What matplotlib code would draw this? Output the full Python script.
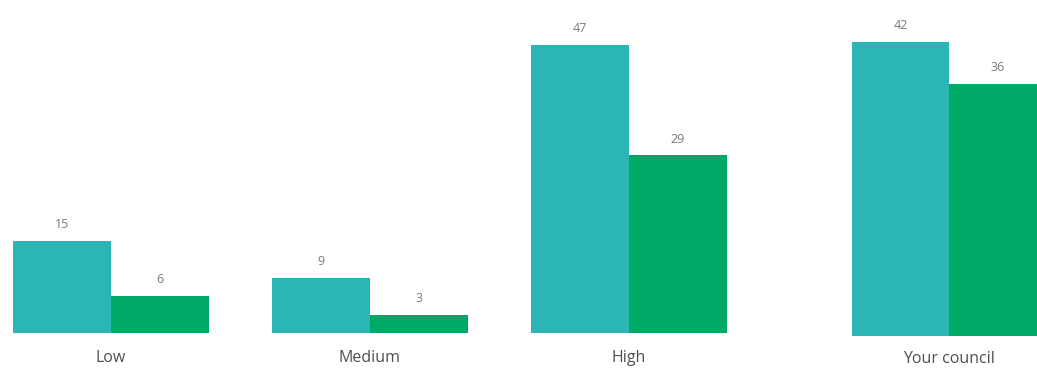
import matplotlib
matplotlib.use("Agg")
import matplotlib.pyplot as plt

categories = ["Low", "Medium", "High", "Your council"]
teal_values = [15, 9, 47, 42]
green_values = [6, 3, 29, 36]

TEAL = "#2BB5B4"
GREEN = "#00AA66"
LABEL_C = "#7a7a7a"
CAT_C = "#505050"
FONT = ["Open Sans", "DejaVu Sans"]

W, H = 1037, 369
fig = plt.figure(figsize=(W / 100, H / 100), dpi=100)


def draw(ax, idx, xs, width, cat_off):
    for x, i in zip(xs, idx):
        for off, val, col in ((-width / 2, teal_values[i], TEAL), (width / 2, green_values[i], GREEN)):
            ax.bar(x + off, val, width=width, color=col, linewidth=0)
            ax.annotate(str(val), (x + off, val), xytext=(0, 7), textcoords="offset points",
                        ha="center", va="bottom", fontsize=9, color=LABEL_C, family=FONT)
        ax.annotate(categories[i], (x, 0), xytext=(0, cat_off), textcoords="offset points",
                    ha="center", va="top", fontsize=11.5, color=CAT_C, family=FONT,
                    annotation_clip=False)
    for s in ax.spines.values():
        s.set_visible(False)
    ax.set_xticks([])
    ax.set_yticks([])
    ax.patch.set_alpha(0)


# first three groups: centres 259 px apart, bars 98 px wide
ax1 = fig.add_axes([0, 36 / H, 760 / W, 333 / H])
w1 = 98 / 259
draw(ax1, [0, 1, 2], [0, 1, 2], w1, -12)
ax1.set_xlim(-111 / 259, (760 - 111) / 259)
ax1.set_ylim(0, 333 / 6.13)

# "Your council" panel, drawn at its own scale
ax2 = fig.add_axes([760 / W, 33 / H, (W - 760) / W, 336 / H])
draw(ax2, [3], [0], 1.0, -10.5)
ax2.set_xlim((760 - 949) / 97, (W - 949) / 97)
ax2.set_ylim(0, 336 / 7.0)

fig.savefig("out.png", dpi=100, facecolor="white")
